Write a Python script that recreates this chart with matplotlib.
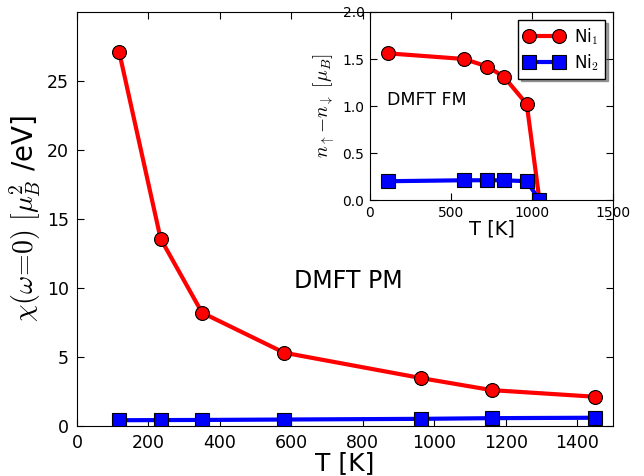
import matplotlib
matplotlib.use("Agg")
import matplotlib.pyplot as plt

plt.rcParams['mathtext.fontset'] = 'cm'
plt.rcParams['font.family'] = ['DejaVu Sans']

# Main panel: DMFT PM susceptibility
T_pm = [118, 234, 350, 580, 964, 1161, 1451]
chi_ni1 = [27.1, 13.57, 8.21, 5.31, 3.47, 2.6, 2.12]
chi_ni2 = [0.42, 0.43, 0.44, 0.47, 0.52, 0.57, 0.60]
x_ticks_main = [0, 200, 400, 600, 800, 1000, 1200, 1400]
y_ticks_main = [0, 5, 10, 15, 20, 25]

# Inset: DMFT FM magnetic moment
T_fm = [113, 580, 723, 826, 966, 1044]
m_ni1 = [1.56, 1.50, 1.42, 1.31, 1.02, 0.0]
m_ni2 = [0.20, 0.21, 0.21, 0.21, 0.20, 0.0]
x_ticks_in = [0, 500, 1000, 1500]
y_ticks_in = [0.0, 0.5, 1.0, 1.5, 2.0]

fig = plt.figure(figsize=(6.44, 4.76), dpi=100)
ax = fig.add_axes([0.1196, 0.105, 0.832, 0.870])
ax.plot(T_pm, chi_ni1, '-o', color='red', lw=3, ms=10, mec='black', mew=0.8)
ax.plot(T_pm, chi_ni2, '-s', color='blue', lw=3, ms=10, mec='black', mew=0.8)
ax.set_xlim(0, 1500)
ax.set_ylim(0, 30)
ax.set_xticks(x_ticks_main)
ax.set_yticks(y_ticks_main)
ax.tick_params(direction='in', top=True, right=True, labelsize=12.5, length=5, pad=6)
ax.set_xlabel('T [K]', fontsize=18, labelpad=-1)
ax.set_ylabel(r'$\chi(\omega\!=\!0)\ [\mu_B^2$ /eV]', fontsize=20, labelpad=3)
ax.text(0.405, 0.35, 'DMFT PM', transform=ax.transAxes, fontsize=17, ha='left', va='center')

ins = fig.add_axes([0.5745, 0.5798, 0.378, 0.395])
ins.plot(T_fm, m_ni1, '-o', color='red', lw=3, ms=10, mec='black', mew=0.8, label=r'Ni$_1$')
ins.plot(T_fm, m_ni2, '-s', color='blue', lw=3, ms=10, mec='black', mew=0.8, label=r'Ni$_2$')
ins.set_xlim(0, 1500)
ins.set_ylim(0, 2.0)
ins.set_xticks(x_ticks_in)
ins.set_yticks(y_ticks_in)
ins.tick_params(direction='in', top=True, right=True, labelsize=10, length=5, pad=4)
ins.set_xlabel('T [K]', fontsize=14, labelpad=0)
ins.set_ylabel(r'$n_\uparrow\!-\!n_\downarrow\ [\mu_B]$', fontsize=14, labelpad=4)
ins.text(0.07, 0.53, 'DMFT FM', transform=ins.transAxes, fontsize=12.5, ha='left', va='center')
leg = ins.legend(loc='upper right', fontsize=12, shadow=True, fancybox=False, numpoints=2,
                 handlelength=2.4, borderpad=0.35, labelspacing=0.3, framealpha=1,
                 handletextpad=0.6)
leg.get_frame().set_edgecolor('black')

fig.savefig('out.png', dpi=100)
